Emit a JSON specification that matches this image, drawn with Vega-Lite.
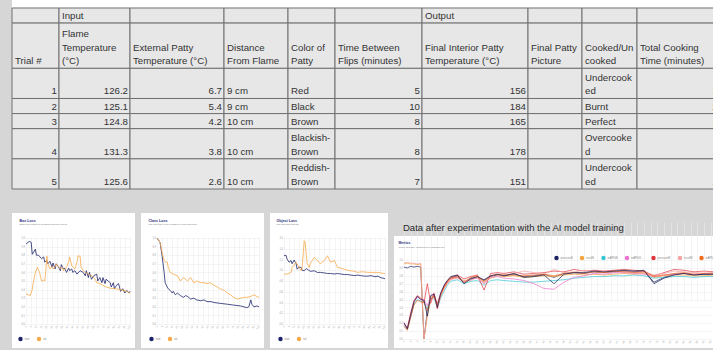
{
"$schema":"https://vega.github.io/schema/vega-lite/v6.json",
"background":"#d6d6d6",
"padding":{"left":11,"top":0,"right":0,"bottom":3},
"config":{
 "view":{"stroke":null,"fill":"white"},
 "font":"Liberation Sans",
 "text":{"fontSize":9.7,"lineBreak":"\n","lineHeight":13.6,"baseline":"bottom","color":"#333333","dy":-2},
 "rect":{"fill":"#e7e7e7","stroke":"#707070","strokeWidth":1},
 "axis":{"domain":false,"ticks":false,"labelFontSize":2.6,"labelColor":"#a0a0a0","gridColor":"#ececec","gridWidth":0.6,"labelPadding":1.5,"titleFontWeight":"normal"},
 "legend":{"symbolType":"circle","symbolSize":5,"symbolStrokeWidth":2.2,"labelFontSize":2.6,"labelColor":"#888888","labelOffset":1.5,"columnPadding":2.5,"rowPadding":0,"padding":0,"labelLimit":13}
},
"datasets":{
 "patty":[
  {"row":0,"lines":1,"flame":"Input","interior":"Output"},
  {"row":1,"lines":3,"trial":"Trial #","flame":"Flame\nTemperature\n(°C)","external":"External Patty\nTemperature (°C)","distance":"Distance\nFrom Flame","color":"Color of\nPatty","flips":"Time Between\nFlips (minutes)","interior":"Final Interior Patty\nTemperature (°C)","picture":"Final Patty\nPicture","cooked":"Cooked/Un\ncooked","total":"Total Cooking\nTime (minutes)"},
  {"row":2,"lines":2,"trial":"1","flame":"126.2","external":"6.7","distance":"9 cm","color":"Red","flips":"5","interior":"156","cooked":"Undercook\ned","total":"15"},
  {"row":3,"lines":1,"trial":"2","flame":"125.1","external":"5.4","distance":"9 cm","color":"Black","flips":"10","interior":"184","cooked":"Burnt","total":"20"},
  {"row":4,"lines":1,"trial":"3","flame":"124.8","external":"4.2","distance":"10 cm","color":"Brown","flips":"8","interior":"165","cooked":"Perfect","total":"16"},
  {"row":5,"lines":2,"trial":"4","flame":"131.3","external":"3.8","distance":"10 cm","color":"Blackish-\nBrown","flips":"8","interior":"178","cooked":"Overcooke\nd","total":"18"},
  {"row":6,"lines":2,"trial":"5","flame":"125.6","external":"2.6","distance":"10 cm","color":"Reddish-\nBrown","flips":"7","interior":"151","cooked":"Undercook\ned","total":"14"}
 ],
 "box":[
  {"epoch":0,"loss":0.93,"set":"train"},{"epoch":3,"loss":0.96,"set":"train"},{"epoch":5,"loss":0.95,"set":"train"},{"epoch":6,"loss":0.81,"set":"train"},{"epoch":9,"loss":0.87,"set":"train"},{"epoch":10,"loss":0.8,"set":"train"},{"epoch":12,"loss":0.8,"set":"train"},{"epoch":15,"loss":0.76,"set":"train"},{"epoch":17,"loss":0.78,"set":"train"},{"epoch":18,"loss":0.72,"set":"train"},{"epoch":20,"loss":0.74,"set":"train"},{"epoch":21,"loss":0.7,"set":"train"},{"epoch":23,"loss":0.73,"set":"train"},{"epoch":25,"loss":0.66,"set":"train"},{"epoch":26,"loss":0.71,"set":"train"},{"epoch":28,"loss":0.64,"set":"train"},{"epoch":29,"loss":0.7,"set":"train"},{"epoch":31,"loss":0.67,"set":"train"},{"epoch":33,"loss":0.62,"set":"train"},{"epoch":34,"loss":0.69,"set":"train"},{"epoch":36,"loss":0.64,"set":"train"},{"epoch":37,"loss":0.65,"set":"train"},{"epoch":39,"loss":0.6,"set":"train"},{"epoch":41,"loss":0.65,"set":"train"},{"epoch":42,"loss":0.62,"set":"train"},{"epoch":44,"loss":0.64,"set":"train"},{"epoch":45,"loss":0.6,"set":"train"},{"epoch":47,"loss":0.62,"set":"train"},{"epoch":49,"loss":0.58,"set":"train"},{"epoch":52,"loss":0.62,"set":"train"},{"epoch":55,"loss":0.6,"set":"train"},{"epoch":57,"loss":0.56,"set":"train"},{"epoch":58,"loss":0.62,"set":"train"},{"epoch":60,"loss":0.54,"set":"train"},{"epoch":61,"loss":0.6,"set":"train"},{"epoch":63,"loss":0.52,"set":"train"},{"epoch":65,"loss":0.56,"set":"train"},{"epoch":68,"loss":0.58,"set":"train"},{"epoch":69,"loss":0.5,"set":"train"},{"epoch":71,"loss":0.54,"set":"train"},{"epoch":73,"loss":0.48,"set":"train"},{"epoch":74,"loss":0.54,"set":"train"},{"epoch":76,"loss":0.47,"set":"train"},{"epoch":77,"loss":0.52,"set":"train"},{"epoch":81,"loss":0.48,"set":"train"},{"epoch":82,"loss":0.43,"set":"train"},{"epoch":84,"loss":0.48,"set":"train"},{"epoch":85,"loss":0.41,"set":"train"},{"epoch":87,"loss":0.45,"set":"train"},{"epoch":89,"loss":0.47,"set":"train"},{"epoch":91,"loss":0.38,"set":"train"},{"epoch":93,"loss":0.41,"set":"train"},{"epoch":95,"loss":0.36,"set":"train"},{"epoch":97,"loss":0.39,"set":"train"},{"epoch":99,"loss":0.36,"set":"train"},{"epoch":100,"loss":0.38,"set":"train"},
  {"epoch":0,"loss":0.35,"set":"val"},{"epoch":2,"loss":0.34,"set":"val"},{"epoch":4,"loss":0.33,"set":"val"},{"epoch":6,"loss":0.4,"set":"val"},{"epoch":7,"loss":0.48,"set":"val"},{"epoch":9,"loss":0.6,"set":"val"},{"epoch":11,"loss":0.66,"set":"val"},{"epoch":12,"loss":0.63,"set":"val"},{"epoch":13,"loss":0.6,"set":"val"},{"epoch":14,"loss":0.55,"set":"val"},{"epoch":15,"loss":0.5,"set":"val"},{"epoch":17,"loss":0.51,"set":"val"},{"epoch":18,"loss":0.5,"set":"val"},{"epoch":19,"loss":0.62,"set":"val"},{"epoch":20,"loss":0.79,"set":"val"},{"epoch":21,"loss":0.7,"set":"val"},{"epoch":23,"loss":0.64,"set":"val"},{"epoch":25,"loss":0.67,"set":"val"},{"epoch":26,"loss":0.64,"set":"val"},{"epoch":28,"loss":0.66,"set":"val"},{"epoch":29,"loss":0.7,"set":"val"},{"epoch":31,"loss":0.67,"set":"val"},{"epoch":33,"loss":0.64,"set":"val"},{"epoch":35,"loss":0.66,"set":"val"},{"epoch":36,"loss":0.62,"set":"val"},{"epoch":38,"loss":0.64,"set":"val"},{"epoch":39,"loss":0.66,"set":"val"},{"epoch":41,"loss":0.72,"set":"val"},{"epoch":42,"loss":0.78,"set":"val"},{"epoch":44,"loss":0.68,"set":"val"},{"epoch":46,"loss":0.65,"set":"val"},{"epoch":47,"loss":0.64,"set":"val"},{"epoch":49,"loss":0.72,"set":"val"},{"epoch":50,"loss":0.79,"set":"val"},{"epoch":52,"loss":0.79,"set":"val"},{"epoch":53,"loss":0.66,"set":"val"},{"epoch":55,"loss":0.62,"set":"val"},{"epoch":57,"loss":0.6,"set":"val"},{"epoch":60,"loss":0.58,"set":"val"},{"epoch":62,"loss":0.57,"set":"val"},{"epoch":65,"loss":0.54,"set":"val"},{"epoch":67,"loss":0.51,"set":"val"},{"epoch":68,"loss":0.48,"set":"val"},{"epoch":71,"loss":0.47,"set":"val"},{"epoch":74,"loss":0.45,"set":"val"},{"epoch":77,"loss":0.43,"set":"val"},{"epoch":80,"loss":0.42,"set":"val"},{"epoch":84,"loss":0.41,"set":"val"},{"epoch":87,"loss":0.41,"set":"val"},{"epoch":90,"loss":0.4,"set":"val"},{"epoch":94,"loss":0.39,"set":"val"},{"epoch":97,"loss":0.38,"set":"val"},{"epoch":99,"loss":0.36,"set":"val"},{"epoch":100,"loss":0.36,"set":"val"}
 ],
 "cls":[
  {"epoch":0,"loss":1.0,"set":"train"},{"epoch":3,"loss":0.95,"set":"train"},{"epoch":5,"loss":0.79,"set":"train"},{"epoch":7,"loss":0.6,"set":"train"},{"epoch":8,"loss":0.48,"set":"train"},{"epoch":10,"loss":0.43,"set":"train"},{"epoch":11,"loss":0.41,"set":"train"},{"epoch":13,"loss":0.39,"set":"train"},{"epoch":15,"loss":0.36,"set":"train"},{"epoch":16,"loss":0.38,"set":"train"},{"epoch":18,"loss":0.34,"set":"train"},{"epoch":20,"loss":0.36,"set":"train"},{"epoch":23,"loss":0.33,"set":"train"},{"epoch":26,"loss":0.31,"set":"train"},{"epoch":28,"loss":0.33,"set":"train"},{"epoch":30,"loss":0.32,"set":"train"},{"epoch":33,"loss":0.29,"set":"train"},{"epoch":36,"loss":0.3,"set":"train"},{"epoch":39,"loss":0.28,"set":"train"},{"epoch":43,"loss":0.27,"set":"train"},{"epoch":46,"loss":0.28,"set":"train"},{"epoch":49,"loss":0.26,"set":"train"},{"epoch":53,"loss":0.26,"set":"train"},{"epoch":56,"loss":0.25,"set":"train"},{"epoch":62,"loss":0.24,"set":"train"},{"epoch":69,"loss":0.23,"set":"train"},{"epoch":75,"loss":0.22,"set":"train"},{"epoch":82,"loss":0.21,"set":"train"},{"epoch":88,"loss":0.19,"set":"train"},{"epoch":90,"loss":0.2,"set":"train"},{"epoch":92,"loss":0.28,"set":"train"},{"epoch":93,"loss":0.23,"set":"train"},{"epoch":95,"loss":0.2,"set":"train"},{"epoch":98,"loss":0.21,"set":"train"},{"epoch":100,"loss":0.2,"set":"train"},
  {"epoch":0,"loss":1.0,"set":"val"},{"epoch":3,"loss":0.95,"set":"val"},{"epoch":5,"loss":0.83,"set":"val"},{"epoch":7,"loss":0.74,"set":"val"},{"epoch":8,"loss":0.72,"set":"val"},{"epoch":10,"loss":0.72,"set":"val"},{"epoch":11,"loss":0.66,"set":"val"},{"epoch":13,"loss":0.6,"set":"val"},{"epoch":16,"loss":0.58,"set":"val"},{"epoch":20,"loss":0.56,"set":"val"},{"epoch":23,"loss":0.5,"set":"val"},{"epoch":26,"loss":0.54,"set":"val"},{"epoch":30,"loss":0.5,"set":"val"},{"epoch":33,"loss":0.54,"set":"val"},{"epoch":36,"loss":0.48,"set":"val"},{"epoch":39,"loss":0.5,"set":"val"},{"epoch":43,"loss":0.48,"set":"val"},{"epoch":46,"loss":0.48,"set":"val"},{"epoch":49,"loss":0.47,"set":"val"},{"epoch":52,"loss":0.48,"set":"val"},{"epoch":56,"loss":0.45,"set":"val"},{"epoch":59,"loss":0.43,"set":"val"},{"epoch":62,"loss":0.41,"set":"val"},{"epoch":66,"loss":0.39,"set":"val"},{"epoch":69,"loss":0.36,"set":"val"},{"epoch":72,"loss":0.34,"set":"val"},{"epoch":75,"loss":0.31,"set":"val"},{"epoch":79,"loss":0.29,"set":"val"},{"epoch":82,"loss":0.3,"set":"val"},{"epoch":85,"loss":0.31,"set":"val"},{"epoch":88,"loss":0.31,"set":"val"},{"epoch":92,"loss":0.32,"set":"val"},{"epoch":95,"loss":0.34,"set":"val"},{"epoch":98,"loss":0.32,"set":"val"},{"epoch":100,"loss":0.31,"set":"val"}
 ],
 "obj":[
  {"epoch":0,"loss":1.27,"set":"train"},{"epoch":2,"loss":1.28,"set":"train"},{"epoch":3,"loss":1.21,"set":"train"},{"epoch":5,"loss":1.15,"set":"train"},{"epoch":7,"loss":1.18,"set":"train"},{"epoch":8,"loss":1.12,"set":"train"},{"epoch":10,"loss":1.19,"set":"train"},{"epoch":12,"loss":1.12,"set":"train"},{"epoch":13,"loss":1.02,"set":"train"},{"epoch":15,"loss":1.06,"set":"train"},{"epoch":17,"loss":1.05,"set":"train"},{"epoch":18,"loss":1.0,"set":"train"},{"epoch":20,"loss":0.99,"set":"train"},{"epoch":22,"loss":1.03,"set":"train"},{"epoch":23,"loss":1.02,"set":"train"},{"epoch":26,"loss":0.98,"set":"train"},{"epoch":30,"loss":0.99,"set":"train"},{"epoch":33,"loss":0.96,"set":"train"},{"epoch":36,"loss":0.96,"set":"train"},{"epoch":40,"loss":0.95,"set":"train"},{"epoch":43,"loss":0.94,"set":"train"},{"epoch":46,"loss":0.94,"set":"train"},{"epoch":50,"loss":0.93,"set":"train"},{"epoch":53,"loss":0.94,"set":"train"},{"epoch":56,"loss":0.93,"set":"train"},{"epoch":60,"loss":0.92,"set":"train"},{"epoch":63,"loss":0.92,"set":"train"},{"epoch":66,"loss":0.91,"set":"train"},{"epoch":70,"loss":0.9,"set":"train"},{"epoch":73,"loss":0.91,"set":"train"},{"epoch":76,"loss":0.9,"set":"train"},{"epoch":80,"loss":0.89,"set":"train"},{"epoch":83,"loss":0.89,"set":"train"},{"epoch":86,"loss":0.9,"set":"train"},{"epoch":90,"loss":0.88,"set":"train"},{"epoch":93,"loss":0.89,"set":"train"},{"epoch":96,"loss":0.86,"set":"train"},{"epoch":99,"loss":0.85,"set":"train"},{"epoch":100,"loss":0.84,"set":"train"},
  {"epoch":0,"loss":0.93,"set":"val"},{"epoch":3,"loss":0.93,"set":"val"},{"epoch":7,"loss":0.96,"set":"val"},{"epoch":8,"loss":1.05,"set":"val"},{"epoch":10,"loss":1.1,"set":"val"},{"epoch":12,"loss":1.15,"set":"val"},{"epoch":13,"loss":1.12,"set":"val"},{"epoch":15,"loss":1.05,"set":"val"},{"epoch":17,"loss":0.99,"set":"val"},{"epoch":18,"loss":1.05,"set":"val"},{"epoch":19,"loss":1.3,"set":"val"},{"epoch":20,"loss":1.55,"set":"val"},{"epoch":21,"loss":1.52,"set":"val"},{"epoch":22,"loss":1.3,"set":"val"},{"epoch":23,"loss":1.12,"set":"val"},{"epoch":25,"loss":1.05,"set":"val"},{"epoch":26,"loss":1.12,"set":"val"},{"epoch":28,"loss":1.18,"set":"val"},{"epoch":30,"loss":1.24,"set":"val"},{"epoch":33,"loss":1.18,"set":"val"},{"epoch":36,"loss":1.12,"set":"val"},{"epoch":40,"loss":1.18,"set":"val"},{"epoch":43,"loss":1.27,"set":"val"},{"epoch":46,"loss":1.15,"set":"val"},{"epoch":50,"loss":1.18,"set":"val"},{"epoch":53,"loss":1.05,"set":"val"},{"epoch":56,"loss":1.04,"set":"val"},{"epoch":60,"loss":1.02,"set":"val"},{"epoch":63,"loss":1.0,"set":"val"},{"epoch":66,"loss":0.99,"set":"val"},{"epoch":70,"loss":0.98,"set":"val"},{"epoch":73,"loss":0.96,"set":"val"},{"epoch":76,"loss":0.97,"set":"val"},{"epoch":79,"loss":0.97,"set":"val"},{"epoch":83,"loss":0.96,"set":"val"},{"epoch":86,"loss":0.96,"set":"val"},{"epoch":90,"loss":0.96,"set":"val"},{"epoch":93,"loss":0.96,"set":"val"},{"epoch":96,"loss":0.95,"set":"val"},{"epoch":99,"loss":0.94,"set":"val"},{"epoch":100,"loss":0.94,"set":"val"}
 ],
 "metrics":[
  {"epoch":0,"precisionB":0.91,"recallB":0.95,"mAP50B":0.17,"mAP5095B":0.19,"precisionM":0.21,"recallM":0.96,"mAP50M":0.16,"mAP5095M":0.2},
  {"epoch":1,"precisionB":0.9,"recallB":0.96,"mAP50B":0.12,"mAP5095B":0.14,"precisionM":0.13,"recallM":0.97,"mAP50M":0.11,"mAP5095M":0.13},
  {"epoch":2,"precisionB":0.92,"recallB":0.95,"mAP50B":0.28,"mAP5095B":0.31,"precisionM":0.33,"recallM":0.96,"mAP50M":0.27,"mAP5095M":0.3},
  {"epoch":3,"precisionB":0.91,"recallB":0.95,"mAP50B":0.44,"mAP5095B":0.47,"precisionM":0.49,"recallM":0.96,"mAP50M":0.43,"mAP5095M":0.47},
  {"epoch":4,"precisionB":0.92,"recallB":0.94,"mAP50B":0.5,"mAP5095B":0.53,"precisionM":0.55,"recallM":0.95,"mAP50M":0.49,"mAP5095M":0.54},
  {"epoch":5,"precisionB":0.91,"recallB":0.95,"mAP50B":0.48,"mAP5095B":0.51,"precisionM":0.52,"recallM":0.96,"mAP50M":0.47,"mAP5095M":0.5},
  {"epoch":6,"precisionB":0.0,"recallB":0.0,"mAP50B":0.47,"mAP5095B":0.5,"precisionM":0.46,"recallM":0.0,"mAP50M":0.46,"mAP5095M":0.49},
  {"epoch":7,"precisionB":0.37,"recallB":0.28,"mAP50B":0.38,"mAP5095B":0.42,"precisionM":0.7,"recallM":0.32,"mAP50M":0.36,"mAP5095M":0.29},
  {"epoch":8,"precisionB":0.5,"recallB":0.52,"mAP50B":0.5,"mAP5095B":0.54,"precisionM":0.45,"recallM":0.49,"mAP50M":0.51,"mAP5095M":0.55},
  {"epoch":9,"precisionB":0.55,"recallB":0.57,"mAP50B":0.52,"mAP5095B":0.56,"precisionM":0.58,"recallM":0.53,"mAP50M":0.54,"mAP5095M":0.57},
  {"epoch":10,"precisionB":0.42,"recallB":0.44,"mAP50B":0.4,"mAP5095B":0.45,"precisionM":0.38,"recallM":0.41,"mAP50M":0.43,"mAP5095M":0.4},
  {"epoch":11,"precisionB":0.56,"recallB":0.55,"mAP50B":0.52,"mAP5095B":0.58,"precisionM":0.55,"recallM":0.54,"mAP50M":0.57,"mAP5095M":0.58},
  {"epoch":12,"precisionB":0.66,"recallB":0.64,"mAP50B":0.6,"mAP5095B":0.66,"precisionM":0.67,"recallM":0.63,"mAP50M":0.65,"mAP5095M":0.68},
  {"epoch":13,"precisionB":0.73,"recallB":0.71,"mAP50B":0.68,"mAP5095B":0.72,"precisionM":0.74,"recallM":0.7,"mAP50M":0.72,"mAP5095M":0.74},
  {"epoch":14,"precisionB":0.77,"recallB":0.76,"mAP50B":0.73,"mAP5095B":0.76,"precisionM":0.78,"recallM":0.75,"mAP50M":0.77,"mAP5095M":0.79},
  {"epoch":16,"precisionB":0.8,"recallB":0.78,"mAP50B":0.75,"mAP5095B":0.78,"precisionM":0.81,"recallM":0.77,"mAP50M":0.79,"mAP5095M":0.81},
  {"epoch":18,"precisionB":0.72,"recallB":0.74,"mAP50B":0.7,"mAP5095B":0.72,"precisionM":0.76,"recallM":0.73,"mAP50M":0.71,"mAP5095M":0.7},
  {"epoch":20,"precisionB":0.77,"recallB":0.75,"mAP50B":0.73,"mAP5095B":0.76,"precisionM":0.79,"recallM":0.74,"mAP50M":0.78,"mAP5095M":0.76},
  {"epoch":22,"precisionB":0.78,"recallB":0.79,"mAP50B":0.74,"mAP5095B":0.77,"precisionM":0.81,"recallM":0.78,"mAP50M":0.8,"mAP5095M":0.79},
  {"epoch":24,"precisionB":0.74,"recallB":0.72,"mAP50B":0.68,"mAP5095B":0.7,"precisionM":0.62,"recallM":0.71,"mAP50M":0.73,"mAP5095M":0.75},
  {"epoch":26,"precisionB":0.79,"recallB":0.77,"mAP50B":0.74,"mAP5095B":0.78,"precisionM":0.83,"recallM":0.78,"mAP50M":0.8,"mAP5095M":0.8},
  {"epoch":28,"precisionB":0.81,"recallB":0.8,"mAP50B":0.75,"mAP5095B":0.79,"precisionM":0.84,"recallM":0.8,"mAP50M":0.82,"mAP5095M":0.82},
  {"epoch":30,"precisionB":0.8,"recallB":0.79,"mAP50B":0.74,"mAP5095B":0.77,"precisionM":0.83,"recallM":0.81,"mAP50M":0.81,"mAP5095M":0.8},
  {"epoch":33,"precisionB":0.82,"recallB":0.8,"mAP50B":0.73,"mAP5095B":0.76,"precisionM":0.85,"recallM":0.83,"mAP50M":0.81,"mAP5095M":0.83},
  {"epoch":36,"precisionB":0.79,"recallB":0.78,"mAP50B":0.72,"mAP5095B":0.74,"precisionM":0.82,"recallM":0.86,"mAP50M":0.8,"mAP5095M":0.78},
  {"epoch":39,"precisionB":0.8,"recallB":0.79,"mAP50B":0.72,"mAP5095B":0.7,"precisionM":0.83,"recallM":0.84,"mAP50M":0.81,"mAP5095M":0.79},
  {"epoch":42,"precisionB":0.82,"recallB":0.8,"mAP50B":0.73,"mAP5095B":0.64,"precisionM":0.84,"recallM":0.82,"mAP50M":0.82,"mAP5095M":0.81},
  {"epoch":45,"precisionB":0.78,"recallB":0.79,"mAP50B":0.74,"mAP5095B":0.63,"precisionM":0.86,"recallM":0.88,"mAP50M":0.8,"mAP5095M":0.7},
  {"epoch":48,"precisionB":0.83,"recallB":0.81,"mAP50B":0.75,"mAP5095B":0.72,"precisionM":0.85,"recallM":0.84,"mAP50M":0.83,"mAP5095M":0.82},
  {"epoch":51,"precisionB":0.84,"recallB":0.82,"mAP50B":0.77,"mAP5095B":0.78,"precisionM":0.88,"recallM":0.85,"mAP50M":0.84,"mAP5095M":0.84},
  {"epoch":54,"precisionB":0.83,"recallB":0.81,"mAP50B":0.78,"mAP5095B":0.8,"precisionM":0.86,"recallM":0.87,"mAP50M":0.83,"mAP5095M":0.84},
  {"epoch":57,"precisionB":0.85,"recallB":0.82,"mAP50B":0.79,"mAP5095B":0.83,"precisionM":0.87,"recallM":0.86,"mAP50M":0.85,"mAP5095M":0.86},
  {"epoch":60,"precisionB":0.84,"recallB":0.81,"mAP50B":0.79,"mAP5095B":0.82,"precisionM":0.86,"recallM":0.84,"mAP50M":0.84,"mAP5095M":0.85},
  {"epoch":63,"precisionB":0.85,"recallB":0.82,"mAP50B":0.8,"mAP5095B":0.84,"precisionM":0.87,"recallM":0.85,"mAP50M":0.86,"mAP5095M":0.86},
  {"epoch":66,"precisionB":0.86,"recallB":0.83,"mAP50B":0.8,"mAP5095B":0.84,"precisionM":0.88,"recallM":0.86,"mAP50M":0.85,"mAP5095M":0.87},
  {"epoch":69,"precisionB":0.85,"recallB":0.82,"mAP50B":0.81,"mAP5095B":0.83,"precisionM":0.87,"recallM":0.85,"mAP50M":0.84,"mAP5095M":0.86},
  {"epoch":72,"precisionB":0.86,"recallB":0.83,"mAP50B":0.8,"mAP5095B":0.82,"precisionM":0.86,"recallM":0.84,"mAP50M":0.85,"mAP5095M":0.87},
  {"epoch":75,"precisionB":0.72,"recallB":0.78,"mAP50B":0.77,"mAP5095B":0.79,"precisionM":0.8,"recallM":0.81,"mAP50M":0.79,"mAP5095M":0.7},
  {"epoch":78,"precisionB":0.78,"recallB":0.8,"mAP50B":0.78,"mAP5095B":0.81,"precisionM":0.84,"recallM":0.83,"mAP50M":0.81,"mAP5095M":0.77},
  {"epoch":81,"precisionB":0.82,"recallB":0.81,"mAP50B":0.79,"mAP5095B":0.82,"precisionM":0.88,"recallM":0.86,"mAP50M":0.83,"mAP5095M":0.81},
  {"epoch":84,"precisionB":0.83,"recallB":0.81,"mAP50B":0.79,"mAP5095B":0.83,"precisionM":0.87,"recallM":0.85,"mAP50M":0.84,"mAP5095M":0.83},
  {"epoch":87,"precisionB":0.81,"recallB":0.8,"mAP50B":0.78,"mAP5095B":0.82,"precisionM":0.85,"recallM":0.84,"mAP50M":0.82,"mAP5095M":0.81},
  {"epoch":90,"precisionB":0.82,"recallB":0.8,"mAP50B":0.79,"mAP5095B":0.83,"precisionM":0.86,"recallM":0.85,"mAP50M":0.83,"mAP5095M":0.82},
  {"epoch":93,"precisionB":0.82,"recallB":0.81,"mAP50B":0.79,"mAP5095B":0.82,"precisionM":0.85,"recallM":0.84,"mAP50M":0.83,"mAP5095M":0.82}
 ]
},
"resolve":{"scale":{"x":"independent","y":"independent","color":"independent"}},
"spacing":23,
"vconcat":[
 {
  "spacing":0,
  "bounds":"flush",
  "resolve":{"scale":{"y":"independent"}},
  "hconcat":[
   {"width":47,"height":189,"data":{"name":"patty"},"transform":[{"stack":"lines","groupby":[],"sort":[{"field":"row","order":"ascending"}],"as":["top","bottom"]}],"layer":[
    {"mark":"rect","encoding":{"y":{"field":"top","type":"quantitative","scale":{"domain":[-0.53,12],"reverse":true,"nice":false,"zero":false},"axis":null},"y2":{"field":"bottom"}}},
    {"transform":[{"filter":"isValid(datum.trial) && datum.row < 2"}],"mark":{"type":"text","align":"left","dx":3},"encoding":{"x":{"value":0},"y":{"field":"bottom","type":"quantitative","scale":{"domain":[-0.53,12],"reverse":true,"nice":false,"zero":false},"axis":null},"text":{"field":"trial","type":"nominal"}}},
    {"transform":[{"filter":"isValid(datum.trial) && datum.row >= 2"}],"mark":{"type":"text","align":"right","dx":-2},"encoding":{"x":{"value":"width"},"y":{"field":"bottom","type":"quantitative","scale":{"domain":[-0.53,12],"reverse":true,"nice":false,"zero":false},"axis":null},"text":{"field":"trial","type":"nominal"}}}
   ]},
   {"width":71,"height":189,"data":{"name":"patty"},"transform":[{"stack":"lines","groupby":[],"sort":[{"field":"row","order":"ascending"}],"as":["top","bottom"]}],"layer":[
    {"mark":"rect","encoding":{"y":{"field":"top","type":"quantitative","scale":{"domain":[-0.53,12],"reverse":true,"nice":false,"zero":false},"axis":null},"y2":{"field":"bottom"}}},
    {"transform":[{"filter":"isValid(datum.flame) && datum.row < 2 && indexof(datum.flame, '\\n') < 0"}],"mark":{"type":"text","align":"left","dx":3},"encoding":{"x":{"value":0},"y":{"field":"bottom","type":"quantitative","scale":{"domain":[-0.53,12],"reverse":true,"nice":false,"zero":false},"axis":null},"text":{"field":"flame","type":"nominal"}}},
    {"transform":[{"filter":"isValid(datum.flame) && datum.row < 2 && length(split(datum.flame, '\\n')) == 3"}],"mark":{"type":"text","align":"left","dx":3,"dy":-29.2},"encoding":{"x":{"value":0},"y":{"field":"bottom","type":"quantitative","scale":{"domain":[-0.53,12],"reverse":true,"nice":false,"zero":false},"axis":null},"text":{"field":"flame","type":"nominal"}}},
    {"transform":[{"filter":"isValid(datum.flame) && datum.row >= 2"}],"mark":{"type":"text","align":"right","dx":-2},"encoding":{"x":{"value":"width"},"y":{"field":"bottom","type":"quantitative","scale":{"domain":[-0.53,12],"reverse":true,"nice":false,"zero":false},"axis":null},"text":{"field":"flame","type":"nominal"}}}
   ]},
   {"width":94,"height":189,"data":{"name":"patty"},"transform":[{"stack":"lines","groupby":[],"sort":[{"field":"row","order":"ascending"}],"as":["top","bottom"]}],"layer":[
    {"mark":"rect","encoding":{"y":{"field":"top","type":"quantitative","scale":{"domain":[-0.53,12],"reverse":true,"nice":false,"zero":false},"axis":null},"y2":{"field":"bottom"}}},
    {"transform":[{"filter":"isValid(datum.external) && datum.row < 2"}],"mark":{"type":"text","align":"left","dx":3,"dy":-15.6},"encoding":{"x":{"value":0},"y":{"field":"bottom","type":"quantitative","scale":{"domain":[-0.53,12],"reverse":true,"nice":false,"zero":false},"axis":null},"text":{"field":"external","type":"nominal"}}},
    {"transform":[{"filter":"isValid(datum.external) && datum.row >= 2"}],"mark":{"type":"text","align":"right","dx":-2},"encoding":{"x":{"value":"width"},"y":{"field":"bottom","type":"quantitative","scale":{"domain":[-0.53,12],"reverse":true,"nice":false,"zero":false},"axis":null},"text":{"field":"external","type":"nominal"}}}
   ]},
   {"width":64,"height":189,"data":{"name":"patty"},"transform":[{"stack":"lines","groupby":[],"sort":[{"field":"row","order":"ascending"}],"as":["top","bottom"]}],"layer":[
    {"mark":"rect","encoding":{"y":{"field":"top","type":"quantitative","scale":{"domain":[-0.53,12],"reverse":true,"nice":false,"zero":false},"axis":null},"y2":{"field":"bottom"}}},
    {"transform":[{"filter":"isValid(datum.distance) && indexof(datum.distance, '\\n') < 0"}],"mark":{"type":"text","align":"left","dx":3},"encoding":{"x":{"value":0},"y":{"field":"bottom","type":"quantitative","scale":{"domain":[-0.53,12],"reverse":true,"nice":false,"zero":false},"axis":null},"text":{"field":"distance","type":"nominal"}}},
    {"transform":[{"filter":"isValid(datum.distance) && length(split(datum.distance, '\\n')) == 2"}],"mark":{"type":"text","align":"left","dx":3,"dy":-15.6},"encoding":{"x":{"value":0},"y":{"field":"bottom","type":"quantitative","scale":{"domain":[-0.53,12],"reverse":true,"nice":false,"zero":false},"axis":null},"text":{"field":"distance","type":"nominal"}}}
   ]},
   {"width":47,"height":189,"data":{"name":"patty"},"transform":[{"stack":"lines","groupby":[],"sort":[{"field":"row","order":"ascending"}],"as":["top","bottom"]}],"layer":[
    {"mark":"rect","encoding":{"y":{"field":"top","type":"quantitative","scale":{"domain":[-0.53,12],"reverse":true,"nice":false,"zero":false},"axis":null},"y2":{"field":"bottom"}}},
    {"transform":[{"filter":"isValid(datum.color) && indexof(datum.color, '\\n') < 0"}],"mark":{"type":"text","align":"left","dx":3},"encoding":{"x":{"value":0},"y":{"field":"bottom","type":"quantitative","scale":{"domain":[-0.53,12],"reverse":true,"nice":false,"zero":false},"axis":null},"text":{"field":"color","type":"nominal"}}},
    {"transform":[{"filter":"isValid(datum.color) && length(split(datum.color, '\\n')) == 2"}],"mark":{"type":"text","align":"left","dx":3,"dy":-15.6},"encoding":{"x":{"value":0},"y":{"field":"bottom","type":"quantitative","scale":{"domain":[-0.53,12],"reverse":true,"nice":false,"zero":false},"axis":null},"text":{"field":"color","type":"nominal"}}}
   ]},
   {"width":87,"height":189,"data":{"name":"patty"},"transform":[{"stack":"lines","groupby":[],"sort":[{"field":"row","order":"ascending"}],"as":["top","bottom"]}],"layer":[
    {"mark":"rect","encoding":{"y":{"field":"top","type":"quantitative","scale":{"domain":[-0.53,12],"reverse":true,"nice":false,"zero":false},"axis":null},"y2":{"field":"bottom"}}},
    {"transform":[{"filter":"isValid(datum.flips) && datum.row < 2"}],"mark":{"type":"text","align":"left","dx":3,"dy":-15.6},"encoding":{"x":{"value":0},"y":{"field":"bottom","type":"quantitative","scale":{"domain":[-0.53,12],"reverse":true,"nice":false,"zero":false},"axis":null},"text":{"field":"flips","type":"nominal"}}},
    {"transform":[{"filter":"isValid(datum.flips) && datum.row >= 2"}],"mark":{"type":"text","align":"right","dx":-2},"encoding":{"x":{"value":"width"},"y":{"field":"bottom","type":"quantitative","scale":{"domain":[-0.53,12],"reverse":true,"nice":false,"zero":false},"axis":null},"text":{"field":"flips","type":"nominal"}}}
   ]},
   {"width":106,"height":189,"data":{"name":"patty"},"transform":[{"stack":"lines","groupby":[],"sort":[{"field":"row","order":"ascending"}],"as":["top","bottom"]}],"layer":[
    {"mark":"rect","encoding":{"y":{"field":"top","type":"quantitative","scale":{"domain":[-0.53,12],"reverse":true,"nice":false,"zero":false},"axis":null},"y2":{"field":"bottom"}}},
    {"transform":[{"filter":"isValid(datum.interior) && datum.row < 2 && indexof(datum.interior, '\\n') < 0"}],"mark":{"type":"text","align":"left","dx":3},"encoding":{"x":{"value":0},"y":{"field":"bottom","type":"quantitative","scale":{"domain":[-0.53,12],"reverse":true,"nice":false,"zero":false},"axis":null},"text":{"field":"interior","type":"nominal"}}},
    {"transform":[{"filter":"isValid(datum.interior) && datum.row < 2 && length(split(datum.interior, '\\n')) == 2"}],"mark":{"type":"text","align":"left","dx":3,"dy":-15.6},"encoding":{"x":{"value":0},"y":{"field":"bottom","type":"quantitative","scale":{"domain":[-0.53,12],"reverse":true,"nice":false,"zero":false},"axis":null},"text":{"field":"interior","type":"nominal"}}},
    {"transform":[{"filter":"isValid(datum.interior) && datum.row >= 2"}],"mark":{"type":"text","align":"right","dx":-2},"encoding":{"x":{"value":"width"},"y":{"field":"bottom","type":"quantitative","scale":{"domain":[-0.53,12],"reverse":true,"nice":false,"zero":false},"axis":null},"text":{"field":"interior","type":"nominal"}}}
   ]},
   {"width":54,"height":189,"data":{"name":"patty"},"transform":[{"stack":"lines","groupby":[],"sort":[{"field":"row","order":"ascending"}],"as":["top","bottom"]}],"layer":[
    {"mark":"rect","encoding":{"y":{"field":"top","type":"quantitative","scale":{"domain":[-0.53,12],"reverse":true,"nice":false,"zero":false},"axis":null},"y2":{"field":"bottom"}}},
    {"transform":[{"filter":"isValid(datum.picture)"}],"mark":{"type":"text","align":"left","dx":3,"dy":-15.6},"encoding":{"x":{"value":0},"y":{"field":"bottom","type":"quantitative","scale":{"domain":[-0.53,12],"reverse":true,"nice":false,"zero":false},"axis":null},"text":{"field":"picture","type":"nominal"}}}
   ]},
   {"width":55,"height":189,"data":{"name":"patty"},"transform":[{"stack":"lines","groupby":[],"sort":[{"field":"row","order":"ascending"}],"as":["top","bottom"]}],"layer":[
    {"mark":"rect","encoding":{"y":{"field":"top","type":"quantitative","scale":{"domain":[-0.53,12],"reverse":true,"nice":false,"zero":false},"axis":null},"y2":{"field":"bottom"}}},
    {"transform":[{"filter":"isValid(datum.cooked) && indexof(datum.cooked, '\\n') < 0"}],"mark":{"type":"text","align":"left","dx":3},"encoding":{"x":{"value":0},"y":{"field":"bottom","type":"quantitative","scale":{"domain":[-0.53,12],"reverse":true,"nice":false,"zero":false},"axis":null},"text":{"field":"cooked","type":"nominal"}}},
    {"transform":[{"filter":"isValid(datum.cooked) && length(split(datum.cooked, '\\n')) == 2"}],"mark":{"type":"text","align":"left","dx":3,"dy":-15.6},"encoding":{"x":{"value":0},"y":{"field":"bottom","type":"quantitative","scale":{"domain":[-0.53,12],"reverse":true,"nice":false,"zero":false},"axis":null},"text":{"field":"cooked","type":"nominal"}}}
   ]},
   {"width":77,"height":189,"data":{"name":"patty"},"transform":[{"stack":"lines","groupby":[],"sort":[{"field":"row","order":"ascending"}],"as":["top","bottom"]}],"layer":[
    {"mark":"rect","encoding":{"y":{"field":"top","type":"quantitative","scale":{"domain":[-0.53,12],"reverse":true,"nice":false,"zero":false},"axis":null},"y2":{"field":"bottom"}}},
    {"transform":[{"filter":"isValid(datum.total) && datum.row < 2"}],"mark":{"type":"text","align":"left","dx":3,"dy":-15.6},"encoding":{"x":{"value":0},"y":{"field":"bottom","type":"quantitative","scale":{"domain":[-0.53,12],"reverse":true,"nice":false,"zero":false},"axis":null},"text":{"field":"total","type":"nominal"}}},
    {"transform":[{"filter":"isValid(datum.total) && datum.row >= 2"}],"mark":{"type":"text","align":"right","dx":9,"clip":true},"encoding":{"x":{"value":"width"},"y":{"field":"bottom","type":"quantitative","scale":{"domain":[-0.53,12],"reverse":true,"nice":false,"zero":false},"axis":null},"text":{"field":"total","type":"nominal"}}}
   ]}
  ]
 },
 {
  "spacing":6,
  "bounds":"flush",
  "resolve":{"scale":{"x":"independent","y":"independent","color":"independent"},"legend":{"color":"independent"}},
  "hconcat":[
   {"width":123,"height":135,"data":{"name":"box"},
    "mark":{"type":"line","strokeWidth":0.8},
    "encoding":{
     "x":{"field":"epoch","type":"quantitative","scale":{"domain":[0,100],"range":[14,118],"nice":false,"zero":false},
      "axis":{"offset":-24,"tickCount":20,"labelAngle":-50,"grid":true,"title":"Difference between predicted and true boxes","titleX":7,"titleY":-101,"titleFontSize":2.4,"titleColor":"#777777","titleAlign":"left","titleBaseline":"top"}},
     "y":{"field":"loss","type":"quantitative","scale":{"domain":[0,1],"range":[111,25],"nice":false},
      "axis":{"offset":-14,"tickCount":10,"grid":true,"title":"Box Loss","titleAngle":0,"titleX":-7,"titleY":5,"titleFontSize":3.6,"titleFontWeight":"bold","titleColor":"#2a2e7c","titleAlign":"left","titleBaseline":"top"}},
     "color":{"field":"set","type":"nominal","scale":{"domain":["train","val"],"range":["#1d2369","#f7a94b"]},"legend":{"orient":"none","legendX":6,"legendY":123,"direction":"horizontal","title":null}}
    }},
   {"width":123,"height":135,"data":{"name":"cls"},
    "mark":{"type":"line","strokeWidth":0.8},
    "encoding":{
     "x":{"field":"epoch","type":"quantitative","scale":{"domain":[0,100],"range":[16,118],"nice":false,"zero":false},
      "axis":{"offset":-24,"tickCount":20,"labelAngle":-50,"grid":true,"title":"The accuracy of the classes in each detection","titleX":7,"titleY":-101,"titleFontSize":2.4,"titleColor":"#777777","titleAlign":"left","titleBaseline":"top"}},
     "y":{"field":"loss","type":"quantitative","scale":{"domain":[0,1],"range":[111,25],"nice":false},
      "axis":{"offset":-16,"tickCount":10,"grid":true,"title":"Class Loss","titleAngle":0,"titleX":-9,"titleY":5,"titleFontSize":3.6,"titleFontWeight":"bold","titleColor":"#2a2e7c","titleAlign":"left","titleBaseline":"top"}},
     "color":{"field":"set","type":"nominal","scale":{"domain":["train","val"],"range":["#1d2369","#f7a94b"]},"legend":{"orient":"none","legendX":8,"legendY":123,"direction":"horizontal","title":null}}
    }},
   {"width":118,"height":135,"data":{"name":"obj"},
    "mark":{"type":"line","strokeWidth":0.8},
    "encoding":{
     "x":{"field":"epoch","type":"quantitative","scale":{"domain":[0,100],"range":[14,115],"nice":false,"zero":false},
      "axis":{"offset":-24,"tickCount":20,"labelAngle":-50,"grid":true,"title":"The detected objects","titleX":6,"titleY":-101,"titleFontSize":2.4,"titleColor":"#777777","titleAlign":"left","titleBaseline":"top"}},
     "y":{"field":"loss","type":"quantitative","scale":{"domain":[0,1.6],"range":[111,25],"nice":false},
      "axis":{"offset":-14,"tickCount":8,"grid":true,"title":"Object Loss","titleAngle":0,"titleX":-8,"titleY":5,"titleFontSize":3.6,"titleFontWeight":"bold","titleColor":"#2a2e7c","titleAlign":"left","titleBaseline":"top"}},
     "color":{"field":"set","type":"nominal","scale":{"domain":["train","val"],"range":["#1d2369","#f7a94b"]},"legend":{"orient":"none","legendX":8,"legendY":123,"direction":"horizontal","title":null}}
    }},
   {"width":320,"height":135,"data":{"name":"metrics"},
    "view":{"fill":{"gradient":"linear","x1":0,"y1":0,"x2":0,"y2":1,"stops":[{"offset":0,"color":"#d6d6d6"},{"offset":0.17,"color":"#d6d6d6"},{"offset":0.171,"color":"#ffffff"},{"offset":1,"color":"#ffffff"}]}},
    "transform":[{"fold":["precisionB","recallB","mAP50B","mAP5095B","precisionM","recallM","mAP50M","mAP5095M"],"as":["metric","value"]}],
    "title":{"text":"Data after experimentation with the AI model training","anchor":"start","frame":"group","dx":9,"fontSize":9.5,"fontWeight":"normal","color":"#262626","offset":-19},
    "mark":{"type":"line","strokeWidth":0.7},
    "encoding":{
     "x":{"field":"epoch","type":"quantitative","scale":{"domain":[0,93],"range":[10,320],"nice":false,"zero":false},
      "axis":{"offset":-9,"tickCount":46,"labelAngle":-50,"grid":true,"title":"Model accuracy measured on validation set","titleX":4,"titleY":-93,"titleFontSize":2.4,"titleColor":"#777777","titleAlign":"left","titleBaseline":"top"}},
     "y":{"field":"value","type":"quantitative","scale":{"domain":[0,1],"range":[126,47],"nice":false},
      "axis":{"offset":-10,"tickCount":10,"grid":true,"title":"Metrics","titleAngle":0,"titleX":-6,"titleY":27,"titleFontSize":3.4,"titleFontWeight":"bold","titleColor":"#2a2e7c","titleAlign":"left","titleBaseline":"top"}},
     "color":{"field":"metric","type":"nominal","scale":{"domain":["precisionB","recallB","mAP50B","mAP5095B","precisionM","recallM","mAP50M","mAP5095M"],"range":["#1c2266","#f5a23a","#36c6d3","#ee6fcf","#e3343f","#f3a3a3","#f26b1d","#14184f"]},"legend":{"orient":"none","legendX":160,"legendY":42,"direction":"horizontal","title":null,"columns":8}}
    }}
  ]
 }
]
}
